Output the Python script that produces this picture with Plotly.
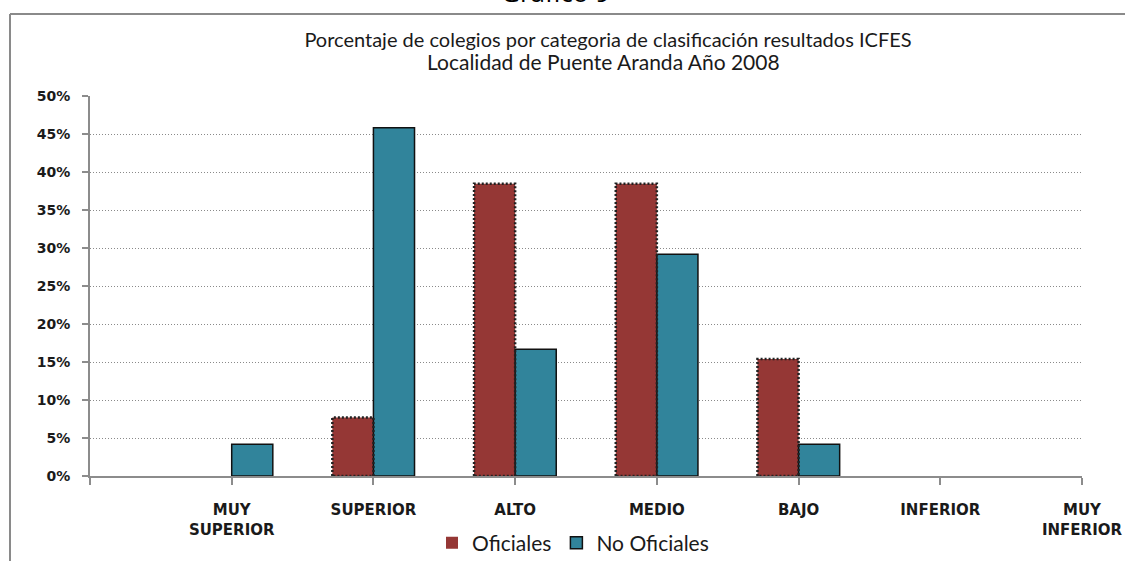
"""Grouped bar chart: percentage of schools per ICFES classification category."""

import plotly.graph_objects as go

categories = ["MUY<br>SUPERIOR", "SUPERIOR", "ALTO", "MEDIO", "BAJO", "INFERIOR", "MUY<br>INFERIOR"]
oficiales = [0.0, 0.0769, 0.3846, 0.3846, 0.1538, 0.0, 0.0]
no_oficiales = [0.0417, 0.4583, 0.1667, 0.2917, 0.0417, 0.0, 0.0]
y_ticks = [0.0, 0.05, 0.10, 0.15, 0.20, 0.25, 0.30, 0.35, 0.40, 0.45, 0.50]

RED = "#953735"
BLUE = "#31849B"
TEXT = "#1a1a1a"
FONT = "Lato"
TICK_FONT = "DejaVu Sans"
BAR_W = 0.29

# plot area in page pixels: x 90..1082, y 96..476
PLOT_H = 380
PLOT_W = 992

idx = list(range(len(categories)))


def _nz(values):
    return [v if v > 0 else None for v in values]


def _px(x_page, y_page):
    """Page pixel -> paper coords (for decorations outside the plot area)."""
    return (x_page - 90) / PLOT_W, (476 - y_page) / PLOT_H


fig = go.Figure()
fig.add_trace(
    go.Bar(
        x=idx,
        y=_nz(oficiales),
        name="Oficiales",
        width=BAR_W,
        offset=-BAR_W,
        marker=dict(color=RED, line=dict(width=0)),
    )
)
fig.add_trace(
    go.Bar(
        x=idx,
        y=_nz(no_oficiales),
        name="No Oficiales",
        width=BAR_W,
        offset=0,
        marker=dict(color=BLUE, line=dict(color="#111111", width=1.5)),
    )
)

# dotted outline around the "Oficiales" bars (bar lines can't be dashed)
ox, oy = [], []
for i, v in zip(idx, oficiales):
    if v <= 0:
        continue
    ox += [i - BAR_W, i - BAR_W, i, i, i - BAR_W, None]
    oy += [0, v, v, 0, 0, None]
fig.add_trace(
    go.Scatter(
        x=ox,
        y=oy,
        mode="lines",
        line=dict(color="#222222", width=2.5, dash="2px,2px"),
        showlegend=False,
        hoverinfo="skip",
    )
)

# outer frame of the embedded chart
fx0, fy0 = _px(10, 14)
fx1, fy1 = _px(1140, 575)
fig.add_shape(
    type="line", xref="paper", yref="paper",
    x0=fx0, x1=fx0, y0=fy0, y1=fy1,
    line=dict(color="#8a8a8a", width=2),
)
fig.add_shape(
    type="line", xref="paper", yref="paper",
    x0=fx0, x1=fx1, y0=fy0, y1=fy0,
    line=dict(color="#8a8a8a", width=2),
)
# page caption, cut by the top edge as in the source scan
gx, gy = _px(555, 12)
fig.add_annotation(
    text="Gráfico 9", xref="paper", yref="paper",
    x=gx, y=gy, yanchor="bottom", showarrow=False,
    font=dict(family="Open Sans", size=26, color="#000000"),
)
sx, sy = _px(603, 61)
fig.add_annotation(
    text="Localidad de Puente Aranda Año 2008", xref="paper", yref="paper",
    x=sx, y=sy, yanchor="middle", showarrow=False,
    font=dict(family=FONT, size=21, color=TEXT),
)

fig.update_layout(
    width=1125,
    height=561,
    margin=dict(l=90, r=43, t=96, b=85, autoexpand=False),
    paper_bgcolor="white",
    plot_bgcolor="white",
    barmode="overlay",
    title=dict(
        text="Porcentaje de colegios por categoria de clasificación resultados ICFES",
        x=608 / 1125, xref="container", xanchor="center",
        y=1 - 40 / 561, yanchor="middle",
        font=dict(family=FONT, size=20, color=TEXT),
    ),
    xaxis=dict(
        range=[-1, len(categories) - 1],
        tickmode="array",
        tickvals=[-1] + idx,
        ticktext=[""] + categories,
        showgrid=False,
        zeroline=False,
        showline=True,
        linecolor="#8c8c8c",
        linewidth=2,
        ticks="outside",
        ticklen=7,
        tickwidth=1.5,
        tickcolor="#8c8c8c",
        ticklabelstandoff=12,
        automargin=False,
        tickfont=dict(family=TICK_FONT, size=15, color=TEXT, weight="bold"),
    ),
    yaxis=dict(
        range=[0, 0.5],
        tickmode="array",
        tickvals=y_ticks,
        tickformat=".0%",
        showgrid=True,
        gridcolor="#8a8a8a",
        griddash="1px,2px",
        gridwidth=1,
        zeroline=False,
        showline=True,
        linecolor="#8c8c8c",
        linewidth=2,
        ticks="outside",
        ticklen=6,
        tickwidth=1.5,
        tickcolor="#8c8c8c",
        ticklabelstandoff=9,
        automargin=False,
        tickfont=dict(family=TICK_FONT, size=14, color=TEXT, weight="bold"),
    ),
    legend=dict(
        orientation="h",
        x=(573 - 90) / PLOT_W, xanchor="center",
        y=-67 / PLOT_H, yanchor="middle",
        font=dict(family=FONT, size=21, color=TEXT),
        itemwidth=30,
        tracegroupgap=0,
    ),
    showlegend=True,
)

# the page's default 8px body margin would shift the whole chart
fig.write_html(
    "out.html",
    config={"displayModeBar": False},
    post_script="document.body.style.margin = '0';",
)
